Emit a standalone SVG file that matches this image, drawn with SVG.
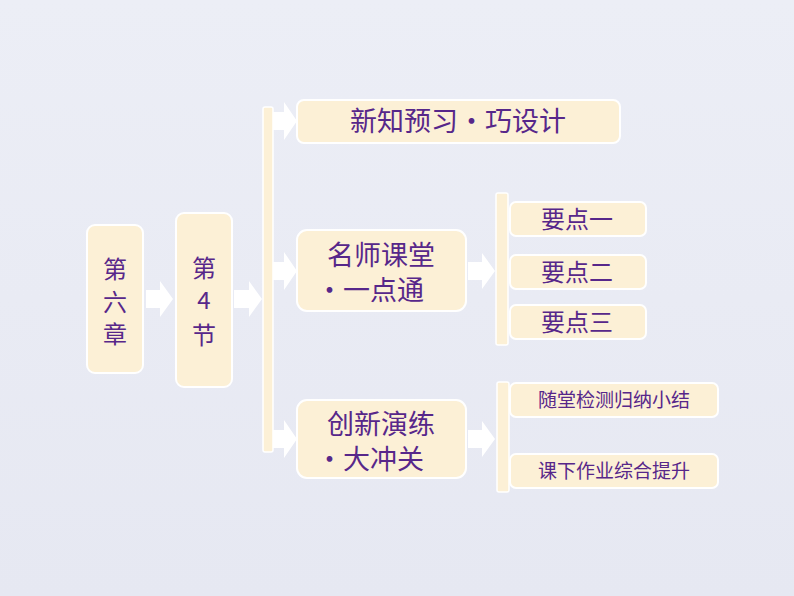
<svg xmlns="http://www.w3.org/2000/svg" width="794" height="596" viewBox="0 0 794 596">
<defs>
<linearGradient id="bg" x1="0" y1="0" x2="0" y2="1"><stop offset="0" stop-color="#eceef6"/><stop offset="1" stop-color="#e6e8f2"/></linearGradient>
<style>
.box{fill:#fcf0d6;stroke:#ffffff;stroke-width:2}
.bar{fill:#fcf0d6;stroke:#ffffff;stroke-width:1.5}
.arr{fill:#ffffff}
.t{font-family:"Noto Sans CJK SC","Liberation Serif",serif;fill:#57278a;text-anchor:middle}
.big{font-size:27px}
.mid{font-size:24px}
.sm{font-size:19px}
</style>
</defs>
<rect width="794" height="596" fill="url(#bg)"/>
<g id="connectors">
<path class="arr" d="M146,290 h14 v-9 l13,18 l-13,18 v-9 h-14 z"/>
<path class="arr" d="M234,290 h15 v-9 l13,18 l-13,18 v-9 h-15 z"/>
<rect class="bar" x="263" y="107" width="10" height="345" rx="2"/>
<path class="arr" d="M273,112 h11 v-10 l13,19 l-13,19 v-10 h-11 z"/>
<path class="arr" d="M273,262 h11 v-10 l13,19 l-13,19 v-10 h-11 z"/>
<path class="arr" d="M273,430 h11 v-10 l13,19 l-13,19 v-10 h-11 z"/>
<path class="arr" d="M468,262 h14 v-9 l13,18 l-13,18 v-9 h-14 z"/>
<path class="arr" d="M468,430 h14 v-9 l13,18 l-13,18 v-9 h-14 z"/>
<rect class="bar" x="496" y="193" width="12" height="152" rx="2"/>
<rect class="bar" x="497" y="382" width="12" height="110" rx="2"/>
</g>
<g id="n1"><rect class="box" x="87" y="225" width="56" height="148" rx="8"/>
<text class="t mid" x="115" y="278">第</text><text class="t mid" x="115" y="311">六</text><text class="t mid" x="115" y="343">章</text></g>
<g id="n2"><rect class="box" x="176" y="213" width="56" height="174" rx="8"/>
<text class="t mid" x="204" y="277">第</text><text class="t mid" x="204" y="309" font-size="22">4</text><text class="t mid" x="204" y="344">节</text></g>
<g id="nA"><rect class="box" x="297" y="100" width="323" height="43" rx="7"/>
<text class="t big" x="458" y="131">新知预习・巧设计</text></g>
<g id="nB"><rect class="box" x="297" y="230" width="169" height="81" rx="10"/>
<text class="t big" x="381" y="265">名师课堂</text><text class="t big" x="370" y="300">・一点通</text></g>
<g id="nC"><rect class="box" x="297" y="400" width="169" height="78" rx="10"/>
<text class="t big" x="381" y="434">创新演练</text><text class="t big" x="370" y="469">・大冲关</text></g>
<g id="k1"><rect class="box" x="510" y="202" width="136" height="34" rx="6"/><text class="t mid" x="577" y="228">要点一</text></g>
<g id="k2"><rect class="box" x="510" y="255" width="136" height="34" rx="6"/><text class="t mid" x="577" y="281">要点二</text></g>
<g id="k3"><rect class="box" x="510" y="305" width="136" height="34" rx="6"/><text class="t mid" x="577" y="331">要点三</text></g>
<g id="s1"><rect class="box" x="510" y="383" width="208" height="34" rx="6"/><text class="t sm" x="614" y="407">随堂检测归纳小结</text></g>
<g id="s2"><rect class="box" x="510" y="454" width="208" height="34" rx="6"/><text class="t sm" x="614" y="478">课下作业综合提升</text></g>
</svg>
